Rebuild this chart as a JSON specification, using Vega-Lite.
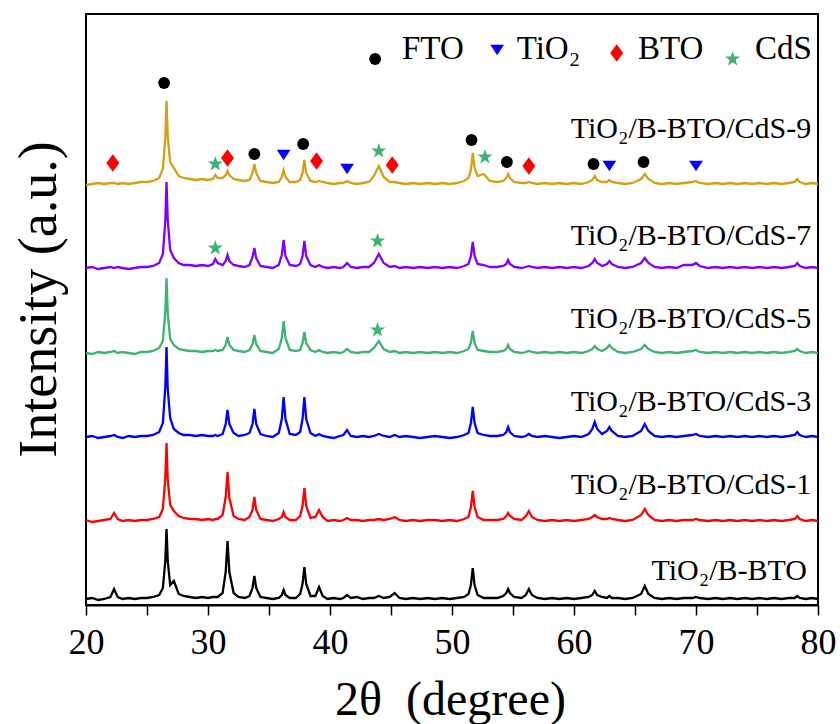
{
  "$schema": "https://vega.github.io/schema/vega-lite/v6.json",
  "width": 732,
  "height": 591,
  "autosize": {"type": "none"},
  "padding": {"left": 86, "top": 14, "right": 22, "bottom": 119},
  "background": "white",
  "config": {
    "font": "Liberation Serif",
    "view": {"stroke": "black", "strokeWidth": 2},
    "axis": {"grid": false}
  },
  "datasets": {
    "xrdData": [
      {"x":20,"k":6,"r":85,"b":168,"g":252,"p":337,"o":420},
      {"x":20.5,"k":7,"r":83,"b":169,"g":251,"p":338,"o":421},
      {"x":21,"k":5,"r":84,"b":167,"g":253,"p":336,"o":422},
      {"x":21.5,"k":6,"r":85,"b":168,"g":252,"p":337,"o":421},
      {"x":22,"k":8,"r":86,"b":169,"g":253,"p":338,"o":422},
      {"x":22.3,"k":16,"r":92,"b":170,"g":254,"p":337,"o":422},
      {"x":22.6,"k":8,"r":86,"b":168,"g":252,"p":338,"o":421},
      {"x":23,"k":6,"r":84,"b":167,"g":253,"p":337,"o":422},
      {"x":23.5,"k":7,"r":85,"b":169,"g":252,"p":336,"o":421},
      {"x":24,"k":6,"r":84,"b":168,"g":251,"p":337,"o":422},
      {"x":24.5,"k":7,"r":85,"b":169,"g":253,"p":338,"o":423},
      {"x":25,"k":7,"r":85,"b":169,"g":253,"p":338,"o":423},
      {"x":25.5,"k":8,"r":86,"b":170,"g":254,"p":339,"o":424},
      {"x":26,"k":10,"r":88,"b":173,"g":257,"p":342,"o":427},
      {"x":26.3,"k":17,"r":96,"b":182,"g":264,"p":351,"o":436},
      {"x":26.5,"k":44,"r":127,"b":218,"g":293,"p":384,"o":467},
      {"x":26.6,"k":76,"r":162,"b":258,"g":327,"p":423,"o":504},
      {"x":26.7,"k":44,"r":125,"b":216,"g":292,"p":385,"o":468},
      {"x":26.9,"k":20,"r":100,"b":187,"g":266,"p":355,"o":443},
      {"x":27.2,"k":24,"r":94,"b":176,"g":260,"p":347,"o":437},
      {"x":27.6,"k":11,"r":89,"b":172,"g":256,"p":342,"o":429},
      {"x":28,"k":9,"r":87,"b":170,"g":255,"p":340,"o":427},
      {"x":28.5,"k":8,"r":86,"b":170,"g":254,"p":340,"o":426},
      {"x":29,"k":7,"r":86,"b":169,"g":254,"p":339,"o":425},
      {"x":29.5,"k":8,"r":85,"b":170,"g":253,"p":340,"o":426},
      {"x":30,"k":7,"r":86,"b":169,"g":254,"p":339,"o":425},
      {"x":30.4,"k":8,"r":85,"b":169,"g":254,"p":341,"o":426},
      {"x":30.6,"k":8,"r":86,"b":170,"g":255,"p":346,"o":430},
      {"x":30.8,"k":8,"r":86,"b":169,"g":254,"p":342,"o":427},
      {"x":31.2,"k":12,"r":90,"b":171,"g":255,"p":340,"o":427},
      {"x":31.45,"k":33,"r":108,"b":181,"g":260,"p":344,"o":430},
      {"x":31.6,"k":64,"r":133,"b":195,"g":268,"p":350,"o":434},
      {"x":31.75,"k":33,"r":107,"b":181,"g":260,"p":344,"o":430},
      {"x":32.1,"k":12,"r":89,"b":172,"g":255,"p":340,"o":426},
      {"x":32.5,"k":8,"r":86,"b":169,"g":254,"p":339,"o":425},
      {"x":33,"k":7,"r":85,"b":170,"g":253,"p":338,"o":424},
      {"x":33.4,"k":9,"r":88,"b":172,"g":255,"p":340,"o":425},
      {"x":33.65,"k":17,"r":95,"b":181,"g":261,"p":348,"o":432},
      {"x":33.8,"k":29,"r":108,"b":196,"g":270,"p":357,"o":441},
      {"x":33.95,"k":17,"r":95,"b":181,"g":261,"p":347,"o":432},
      {"x":34.3,"k":8,"r":86,"b":171,"g":254,"p":339,"o":424},
      {"x":34.8,"k":7,"r":85,"b":169,"g":253,"p":338,"o":423},
      {"x":35.3,"k":6,"r":84,"b":168,"g":252,"p":337,"o":422},
      {"x":35.8,"k":7,"r":86,"b":172,"g":256,"p":340,"o":423},
      {"x":36.05,"k":10,"r":88,"b":186,"g":267,"p":350,"o":428},
      {"x":36.2,"k":15,"r":93,"b":208,"g":284,"p":365,"o":435},
      {"x":36.35,"k":10,"r":88,"b":186,"g":267,"p":349,"o":428},
      {"x":36.7,"k":7,"r":85,"b":171,"g":255,"p":340,"o":423},
      {"x":37.2,"k":7,"r":85,"b":170,"g":254,"p":339,"o":423},
      {"x":37.55,"k":11,"r":89,"b":173,"g":255,"p":341,"o":425},
      {"x":37.75,"k":21,"r":99,"b":186,"g":262,"p":349,"o":432},
      {"x":37.9,"k":38,"r":117,"b":208,"g":273,"p":364,"o":445},
      {"x":38.05,"k":21,"r":99,"b":186,"g":262,"p":349,"o":432},
      {"x":38.4,"k":9,"r":87,"b":172,"g":255,"p":340,"o":424},
      {"x":38.8,"k":9,"r":88,"b":169,"g":253,"p":338,"o":423},
      {"x":39.1,"k":18,"r":95,"b":171,"g":255,"p":340,"o":424},
      {"x":39.4,"k":9,"r":88,"b":169,"g":253,"p":338,"o":423},
      {"x":39.8,"k":6,"r":84,"b":168,"g":252,"p":337,"o":422},
      {"x":40.3,"k":7,"r":85,"b":167,"g":253,"p":338,"o":421},
      {"x":40.8,"k":6,"r":84,"b":169,"g":252,"p":337,"o":422},
      {"x":41.1,"k":7,"r":85,"b":170,"g":253,"p":338,"o":422},
      {"x":41.4,"k":10,"r":87,"b":175,"g":256,"p":342,"o":424},
      {"x":41.7,"k":7,"r":85,"b":169,"g":253,"p":338,"o":422},
      {"x":42.2,"k":8,"r":85,"b":168,"g":252,"p":337,"o":421},
      {"x":42.7,"k":6,"r":84,"b":169,"g":253,"p":338,"o":422},
      {"x":43.2,"k":7,"r":85,"b":168,"g":253,"p":338,"o":423},
      {"x":43.6,"k":7,"r":85,"b":169,"g":257,"p":342,"o":429},
      {"x":44,"k":9,"r":86,"b":171,"g":264,"p":351,"o":439},
      {"x":44.4,"k":7,"r":85,"b":169,"g":256,"p":342,"o":428},
      {"x":44.9,"k":8,"r":86,"b":168,"g":253,"p":338,"o":423},
      {"x":45.3,"k":12,"r":88,"b":170,"g":254,"p":339,"o":423},
      {"x":45.7,"k":7,"r":85,"b":168,"g":252,"p":337,"o":422},
      {"x":46.2,"k":6,"r":84,"b":169,"g":253,"p":338,"o":421},
      {"x":46.8,"k":7,"r":85,"b":168,"g":252,"p":337,"o":422},
      {"x":47.4,"k":6,"r":84,"b":167,"g":253,"p":338,"o":421},
      {"x":48,"k":7,"r":85,"b":168,"g":252,"p":337,"o":422},
      {"x":48.6,"k":6,"r":85,"b":169,"g":253,"p":338,"o":421},
      {"x":49.2,"k":7,"r":84,"b":168,"g":252,"p":337,"o":422},
      {"x":49.8,"k":6,"r":85,"b":167,"g":253,"p":338,"o":421},
      {"x":50.4,"k":7,"r":84,"b":168,"g":252,"p":337,"o":422},
      {"x":51,"k":8,"r":86,"b":170,"g":254,"p":339,"o":424},
      {"x":51.35,"k":11,"r":88,"b":172,"g":256,"p":341,"o":427},
      {"x":51.55,"k":20,"r":98,"b":182,"g":262,"p":349,"o":435},
      {"x":51.7,"k":37,"r":114,"b":198,"g":274,"p":363,"o":452},
      {"x":51.85,"k":20,"r":98,"b":182,"g":262,"p":349,"o":437},
      {"x":52.1,"k":10,"r":88,"b":172,"g":255,"p":341,"o":429},
      {"x":52.6,"k":7,"r":85,"b":170,"g":254,"p":340,"o":431},
      {"x":53.1,"k":7,"r":85,"b":169,"g":253,"p":338,"o":424},
      {"x":53.7,"k":7,"r":85,"b":169,"g":253,"p":338,"o":423},
      {"x":54.2,"k":9,"r":86,"b":170,"g":254,"p":339,"o":424},
      {"x":54.45,"k":12,"r":89,"b":173,"g":256,"p":341,"o":427},
      {"x":54.6,"k":16,"r":92,"b":178,"g":260,"p":345,"o":431},
      {"x":54.75,"k":12,"r":89,"b":173,"g":256,"p":341,"o":427},
      {"x":55.1,"k":8,"r":86,"b":169,"g":253,"p":338,"o":423},
      {"x":55.7,"k":7,"r":85,"b":168,"g":252,"p":337,"o":422},
      {"x":56.05,"k":10,"r":89,"b":169,"g":253,"p":338,"o":422},
      {"x":56.3,"k":16,"r":94,"b":171,"g":254,"p":339,"o":423},
      {"x":56.55,"k":10,"r":88,"b":169,"g":253,"p":338,"o":422},
      {"x":57,"k":7,"r":85,"b":168,"g":252,"p":337,"o":421},
      {"x":57.6,"k":6,"r":84,"b":169,"g":253,"p":338,"o":422},
      {"x":58.2,"k":7,"r":85,"b":168,"g":252,"p":337,"o":421},
      {"x":58.8,"k":6,"r":84,"b":167,"g":253,"p":338,"o":422},
      {"x":59.4,"k":7,"r":85,"b":168,"g":252,"p":337,"o":421},
      {"x":60,"k":6,"r":84,"b":169,"g":253,"p":338,"o":422},
      {"x":60.6,"k":7,"r":85,"b":168,"g":252,"p":337,"o":421},
      {"x":61.2,"k":8,"r":86,"b":171,"g":254,"p":339,"o":423},
      {"x":61.5,"k":10,"r":88,"b":176,"g":256,"p":342,"o":425},
      {"x":61.7,"k":14,"r":90,"b":183,"g":259,"p":346,"o":429},
      {"x":61.9,"k":10,"r":88,"b":176,"g":256,"p":342,"o":425},
      {"x":62.3,"k":8,"r":86,"b":171,"g":254,"p":339,"o":423},
      {"x":62.7,"k":7,"r":86,"b":174,"g":257,"p":341,"o":423},
      {"x":62.9,"k":9,"r":87,"b":178,"g":260,"p":344,"o":425},
      {"x":63.1,"k":7,"r":86,"b":174,"g":257,"p":341,"o":423},
      {"x":63.6,"k":7,"r":85,"b":169,"g":253,"p":338,"o":422},
      {"x":64.2,"k":6,"r":84,"b":168,"g":252,"p":337,"o":421},
      {"x":64.8,"k":7,"r":85,"b":169,"g":253,"p":338,"o":422},
      {"x":65.5,"k":11,"r":90,"b":174,"g":256,"p":342,"o":426},
      {"x":65.8,"k":19,"r":96,"b":181,"g":260,"p":347,"o":431},
      {"x":66.1,"k":11,"r":90,"b":174,"g":256,"p":342,"o":426},
      {"x":66.6,"k":7,"r":85,"b":169,"g":253,"p":338,"o":422},
      {"x":67.2,"k":6,"r":84,"b":168,"g":252,"p":337,"o":421},
      {"x":67.8,"k":7,"r":85,"b":169,"g":253,"p":338,"o":422},
      {"x":68.4,"k":6,"r":84,"b":168,"g":252,"p":337,"o":421},
      {"x":69,"k":7,"r":85,"b":169,"g":253,"p":340,"o":422},
      {"x":69.7,"k":7,"r":85,"b":170,"g":254,"p":340,"o":423},
      {"x":70,"k":8,"r":86,"b":171,"g":255,"p":342,"o":424},
      {"x":70.3,"k":7,"r":85,"b":169,"g":253,"p":339,"o":422},
      {"x":71,"k":6,"r":84,"b":168,"g":252,"p":337,"o":421},
      {"x":71.6,"k":7,"r":85,"b":169,"g":253,"p":338,"o":422},
      {"x":72.2,"k":6,"r":84,"b":168,"g":252,"p":337,"o":421},
      {"x":72.8,"k":7,"r":85,"b":169,"g":253,"p":338,"o":422},
      {"x":73.4,"k":6,"r":84,"b":168,"g":252,"p":337,"o":421},
      {"x":74,"k":7,"r":85,"b":169,"g":253,"p":338,"o":422},
      {"x":74.6,"k":6,"r":84,"b":168,"g":252,"p":337,"o":421},
      {"x":75.2,"k":7,"r":85,"b":169,"g":253,"p":338,"o":422},
      {"x":75.8,"k":6,"r":84,"b":168,"g":252,"p":337,"o":421},
      {"x":76.4,"k":7,"r":85,"b":169,"g":253,"p":338,"o":422},
      {"x":77,"k":6,"r":84,"b":168,"g":252,"p":337,"o":421},
      {"x":77.6,"k":7,"r":85,"b":169,"g":253,"p":338,"o":422},
      {"x":78.1,"k":7,"r":86,"b":170,"g":254,"p":339,"o":423},
      {"x":78.3,"k":9,"r":89,"b":173,"g":256,"p":342,"o":426},
      {"x":78.5,"k":7,"r":86,"b":170,"g":254,"p":339,"o":423},
      {"x":79,"k":6,"r":84,"b":168,"g":252,"p":337,"o":421},
      {"x":79.5,"k":7,"r":85,"b":169,"g":253,"p":338,"o":422},
      {"x":80,"k":6,"r":84,"b":168,"g":252,"p":337,"o":421}
    ],
    "markerData": [
      {"x":22.2,"y":442,"t":"BTO"},
      {"x":26.4,"y":522,"t":"FTO"},
      {"x":30.6,"y":441,"t":"CdS"},
      {"x":31.6,"y":447,"t":"BTO"},
      {"x":33.8,"y":451,"t":"FTO"},
      {"x":36.2,"y":450,"t":"TiO2"},
      {"x":37.8,"y":461,"t":"FTO"},
      {"x":38.9,"y":444,"t":"BTO"},
      {"x":41.4,"y":436,"t":"TiO2"},
      {"x":44.0,"y":454,"t":"CdS"},
      {"x":45.1,"y":440,"t":"BTO"},
      {"x":51.6,"y":465,"t":"FTO"},
      {"x":52.7,"y":448,"t":"CdS"},
      {"x":54.5,"y":443,"t":"FTO"},
      {"x":56.3,"y":439,"t":"BTO"},
      {"x":61.6,"y":441,"t":"FTO"},
      {"x":62.9,"y":439,"t":"TiO2"},
      {"x":65.7,"y":443,"t":"FTO"},
      {"x":70.0,"y":439,"t":"TiO2"},
      {"x":30.6,"y":357,"t":"CdS"},
      {"x":43.9,"y":364,"t":"CdS"},
      {"x":43.9,"y":275,"t":"CdS"},
      {"x":43.7,"y":546,"t":"FTO"},
      {"x":53.7,"y":555,"t":"TiO2"},
      {"x":63.5,"y":552,"t":"BTO"},
      {"x":73.0,"y":546,"t":"CdS"}
    ],
    "labelData": [
      {"x":79.45,"y":467,"label":"TiO₂/B-BTO/CdS-9"},
      {"x":79.45,"y":360,"label":"TiO₂/B-BTO/CdS-7"},
      {"x":79.45,"y":277,"label":"TiO₂/B-BTO/CdS-5"},
      {"x":79.45,"y":194,"label":"TiO₂/B-BTO/CdS-3"},
      {"x":79.45,"y":111,"label":"TiO₂/B-BTO/CdS-1"},
      {"x":79.1,"y":25,"label":"TiO₂/B-BTO"}
    ],
    "legendData": [
      {"x":45.9,"y":546,"label":"FTO"},
      {"x":55.3,"y":546,"label":"TiO₂"},
      {"x":65.25,"y":546,"label":"BTO"},
      {"x":74.84,"y":546,"label":"CdS"}
    ]
  },
  "encoding": {
    "x": {
      "field": "x", "type": "quantitative",
      "scale": {"domain": [20, 80], "nice": false, "zero": false},
      "axis": {
        "orient": "bottom",
        "values": [20, 25, 30, 35, 40, 45, 50, 55, 60, 65, 70, 75, 80],
        "tickSize": 10, "tickWidth": 1.5, "tickColor": "black",
        "domainColor": "black", "domainWidth": 2,
        "labelFontSize": 36, "labelColor": "black", "labelFont": "Liberation Serif",
        "labelPadding": 10, "labelFlush": false,
        "labelExpr": "datum.value % 10 === 0 ? datum.label : ''",
        "title": "2θ\u00a0\u00a0(degree)", "titleFont": "Liberation Serif",
        "titleFontSize": 48, "titleFontWeight": "normal", "titleColor": "black",
        "titleX": 364, "titleY": 95, "titleBaseline": "middle", "titleAlign": "center"
      }
    },
    "y": {
      "field": "v", "type": "quantitative",
      "scale": {"domain": [0, 591], "nice": false, "zero": false},
      "axis": {
        "title": "Intensity (a.u.)", "labels": false, "ticks": false, "domain": false,
        "titleFont": "Liberation Serif", "titleFontSize": 54, "titleFontWeight": "normal",
        "titleColor": "black", "titleX": -47, "titleY": 285, "titleAngle": -90,
        "titleBaseline": "middle", "titleAlign": "center"
      }
    }
  },
  "layer": [
    {
      "data": {"name": "xrdData"},
      "transform": [{"fold": ["k", "r", "b", "g", "p", "o"], "as": ["s", "v"]}],
      "mark": {"type": "line", "strokeWidth": 2.3},
      "encoding": {
        "color": {
          "field": "s", "type": "nominal",
          "scale": {"domain": ["k", "r", "b", "g", "p", "o"], "range": ["#000000", "#ff0000", "#0000ff", "#3cb371", "#8000ff", "#d4a017"]},
          "legend": null
        }
      }
    },
    {
      "data": {"name": "markerData"},
      "transform": [{"filter": "datum.t === 'FTO'"}],
      "mark": {"type": "point", "filled": true, "opacity": 1, "shape": "circle", "size": 140, "color": "#000000"},
      "encoding": {"y": {"field": "y", "type": "quantitative"}}
    },
    {
      "data": {"name": "markerData"},
      "transform": [{"filter": "datum.t === 'TiO2'"}],
      "mark": {"type": "point", "filled": true, "opacity": 1, "shape": "M-1,-0.75L1,-0.75L0,0.75Z", "size": 190, "color": "#0000ff"},
      "encoding": {"y": {"field": "y", "type": "quantitative"}}
    },
    {
      "data": {"name": "markerData"},
      "transform": [{"filter": "datum.t === 'BTO'"}],
      "mark": {"type": "point", "filled": true, "opacity": 1, "shape": "M0,-1L0.75,0L0,1L-0.75,0Z", "size": 300, "color": "#ff0000"},
      "encoding": {"y": {"field": "y", "type": "quantitative"}}
    },
    {
      "data": {"name": "markerData"},
      "transform": [{"filter": "datum.t === 'CdS'"}],
      "mark": {"type": "point", "filled": true, "opacity": 1, "shape": "M0,-1L0.235,-0.324L0.951,-0.309L0.38,0.124L0.588,0.809L0,0.4L-0.588,0.809L-0.38,0.124L-0.951,-0.309L-0.235,-0.324Z", "size": 250, "color": "#3cb371"},
      "encoding": {"y": {"field": "y", "type": "quantitative"}}
    },
    {
      "data": {"name": "labelData"},
      "mark": {"type": "text", "align": "right", "baseline": "alphabetic", "fontSize": 30, "font": "Liberation Serif", "color": "black"},
      "encoding": {
        "y": {"field": "y", "type": "quantitative"},
        "text": {"field": "label"}
      }
    },
    {
      "data": {"name": "legendData"},
      "mark": {"type": "text", "align": "left", "baseline": "alphabetic", "fontSize": 33, "font": "Liberation Serif", "color": "black"},
      "encoding": {
        "y": {"field": "y", "type": "quantitative"},
        "text": {"field": "label"}
      }
    }
  ]
}
